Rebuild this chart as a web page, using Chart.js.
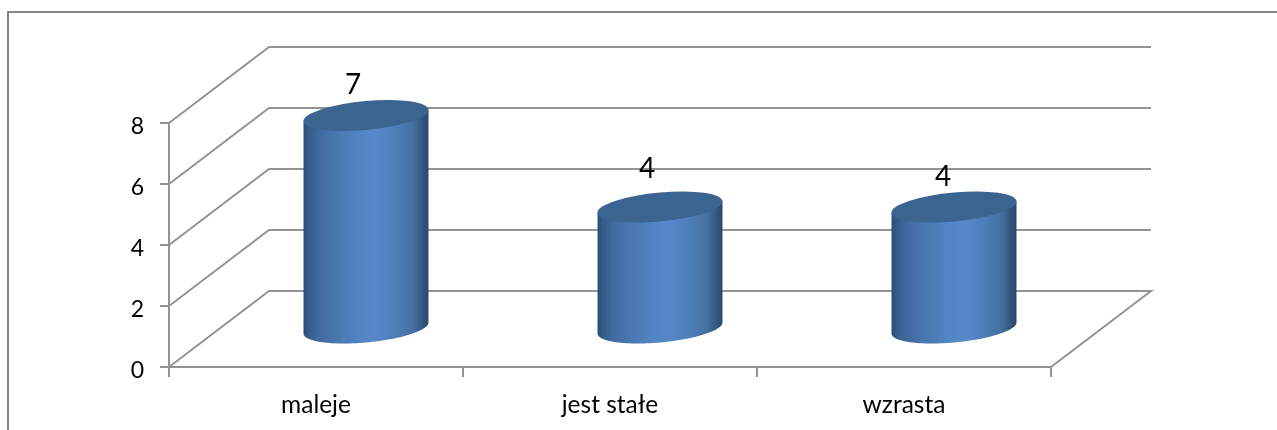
<!DOCTYPE html>
<html>
<head>
<meta charset="utf-8">
<style>
html, body { margin: 0; padding: 0; background: #fff; overflow: hidden; }
#wrap { width: 1277px; height: 430px; }
</style>
<script src="https://cdn.jsdelivr.net/npm/chart.js@4"></script>
</head>
<body>
<div id="wrap"><canvas id="myChart" width="1277" height="430"></canvas></div>
<script>
const categories = ['maleje', 'jest stałe', 'wzrasta'];
const values = [7, 4, 4];
const yTicks = [0, 2, 4, 6, 8];

// how far the back wall sits behind the axes
const depthX = 100;
const depthY = 76;
// the value labels are not centred on the bars in the original
const labelShift = [[-13, -31], [-13, -38], [-11, -30]];

const lineColor = '#939393';
const fontFamily = 'Lato, Carlito, sans-serif';

const frame3d = {
    id: 'frame3d',
    beforeDraw(chart) {
        const ctx = chart.ctx;
        ctx.save();
        ctx.strokeStyle = '#868686';
        ctx.lineWidth = 2;
        ctx.beginPath();
        ctx.moveTo(8, 430);
        ctx.lineTo(8, 12);
        ctx.lineTo(1277, 12);
        ctx.stroke();
        ctx.restore();
    },
    beforeDatasetsDraw(chart) {
        const ctx = chart.ctx;
        const x = chart.scales.x;
        const y = chart.scales.y;
        ctx.save();
        ctx.strokeStyle = lineColor;
        ctx.lineWidth = 2;
        ctx.beginPath();
        yTicks.forEach(t => {
            const py = y.getPixelForValue(t);
            ctx.moveTo(x.left, py);
            ctx.lineTo(x.left + depthX, py - depthY);
            ctx.lineTo(x.right + depthX, py - depthY);
            // floor has a right edge too
            if (t === 0) ctx.lineTo(x.right, py);
        });
        ctx.stroke();
        ctx.restore();
    },
    afterDatasetsDraw(chart) {
        const ctx = chart.ctx;
        chart.getDatasetMeta(0).data.forEach((bar, i) => {
            const cx = bar.x + depthX / 2;
            const top = bar.y - depthY / 2;
            const base = bar.base - depthY / 2;
            const rx = bar.width / 2;
            const ry = 14.5;
            const tilt = -5.5 / rx;

            const grad = ctx.createLinearGradient(cx - rx, 0, cx + rx, 0);
            grad.addColorStop(0, '#2c4d76');
            grad.addColorStop(0.04, '#335a89');
            grad.addColorStop(0.12, '#40699e');
            grad.addColorStop(0.25, '#4876ae');
            grad.addColorStop(0.45, '#5384c3');
            grad.addColorStop(0.58, '#5788c9');
            grad.addColorStop(0.72, '#4f80bc');
            grad.addColorStop(0.88, '#44709f');
            grad.addColorStop(0.96, '#31547f');
            grad.addColorStop(1, '#2a4869');

            ctx.save();
            // body: down the left side, round the bottom ellipse, up the right side
            ctx.beginPath();
            ctx.moveTo(cx - rx, top - tilt * rx);
            ctx.lineTo(cx - rx, base - tilt * rx);
            for (let a = 180; a >= 0; a -= 3) {
                const px = rx * Math.cos(a * Math.PI / 180);
                const py = ry * Math.sin(a * Math.PI / 180);
                ctx.lineTo(cx + px, base + py + tilt * px);
            }
            ctx.lineTo(cx + rx, top + tilt * rx);
            ctx.closePath();
            ctx.fillStyle = grad;
            ctx.fill();

            // lid
            ctx.transform(1, tilt, 0, 1, cx, top);
            ctx.beginPath();
            ctx.ellipse(0, 0, rx, ry, 0, 0, Math.PI * 2);
            ctx.fillStyle = '#3c6491';
            ctx.fill();
            ctx.restore();

            ctx.save();
            ctx.font = '28px ' + fontFamily;
            ctx.fillStyle = '#000';
            ctx.textAlign = 'center';
            ctx.textBaseline = 'middle';
            ctx.fillText(String(values[i]), cx + labelShift[i][0], top + labelShift[i][1]);
            ctx.restore();
        });
    }
};

const chart = new Chart(document.getElementById('myChart'), {
    type: 'bar',
    plugins: [frame3d],
    data: {
        labels: categories,
        datasets: [{
            data: values,
            backgroundColor: 'rgba(0,0,0,0)',
            categoryPercentage: 1,
            barPercentage: 0.425
        }]
    },
    options: {
        responsive: false,
        animation: false,
        layout: {
            padding: { top: 123, right: 226, left: 0, bottom: 0 }
        },
        plugins: {
            legend: { display: false },
            tooltip: { enabled: false }
        },
        scales: {
            x: {
                afterFit(scale) { scale.height = 63; },
                grid: {
                    drawOnChartArea: false,
                    color: lineColor,
                    lineWidth: 2,
                    tickLength: 10
                },
                border: { color: lineColor, width: 2 },
                ticks: {
                    color: '#000',
                    padding: 13,
                    font: { family: fontFamily, size: 24.5 }
                }
            },
            y: {
                min: 0,
                max: 8,
                afterFit(scale) { scale.width = 169; },
                afterBuildTicks(scale) { scale.ticks = yTicks.map(v => ({ value: v })); },
                grid: {
                    drawOnChartArea: false,
                    color: lineColor,
                    lineWidth: 2,
                    tickLength: 9
                },
                border: { color: lineColor, width: 2 },
                ticks: {
                    color: '#000',
                    padding: 16,
                    labelOffset: 4,
                    font: { family: fontFamily, size: 23 }
                }
            }
        }
    }
});
</script>
</body>
</html>
